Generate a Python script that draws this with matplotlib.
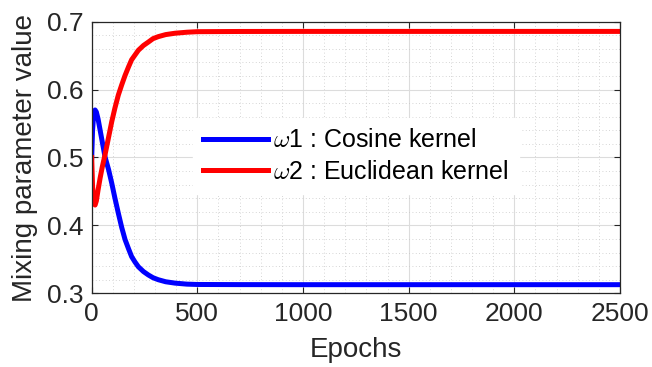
import matplotlib
matplotlib.use("Agg")
import matplotlib.pyplot as plt
from matplotlib.ticker import MultipleLocator

# values
epochs = [0, 4, 10, 16, 22, 30, 40, 50, 63, 80, 95, 110, 126, 142, 158, 175, 189,
          205, 221, 245, 268, 290, 315, 350, 394, 450, 500, 700, 1000, 1500, 2000, 2500]
w1_cosine = [0.500, 0.540, 0.566, 0.570, 0.567, 0.557, 0.540, 0.523, 0.501, 0.482,
             0.462, 0.440, 0.418, 0.397, 0.379, 0.365, 0.354, 0.346, 0.339, 0.332,
             0.327, 0.323, 0.320, 0.317, 0.315, 0.3135, 0.313, 0.3128, 0.3127,
             0.3127, 0.3127, 0.3127]
w2_euclid = [0.500, 0.458, 0.432, 0.430, 0.436, 0.452, 0.470, 0.486, 0.504, 0.530,
             0.553, 0.573, 0.592, 0.607, 0.621, 0.634, 0.644, 0.651, 0.658, 0.665,
             0.670, 0.675, 0.678, 0.681, 0.683, 0.6845, 0.6853, 0.6856, 0.6857,
             0.6857, 0.6857, 0.6857]

plt.rcParams['font.family'] = ['Liberation Sans', 'DejaVu Sans']
plt.rcParams['mathtext.fontset'] = 'cm'

fig = plt.figure(figsize=(6.52, 3.67), dpi=100)
ax = fig.add_axes([91.7 / 652, 1 - 293.3 / 367, 528.3 / 652, 271.6 / 367])

ax.plot(epochs, w1_cosine, color='#0000ff', lw=3.6, label=r'$\omega$1 : Cosine kernel',
        solid_joinstyle='round')
ax.plot(epochs, w2_euclid, color='#ff0000', lw=3.6, label=r'$\omega$2 : Euclidean kernel',
        solid_joinstyle='round')

ax.set_xlim(0, 2500)
ax.set_ylim(0.3, 0.7)
ax.xaxis.set_major_locator(MultipleLocator(500))
ax.xaxis.set_minor_locator(MultipleLocator(100))
ax.yaxis.set_major_locator(MultipleLocator(0.1))
ax.yaxis.set_minor_locator(MultipleLocator(0.02))
ax.set_yticklabels([f'{v:.1f}' for v in ax.get_yticks()])

ax.grid(which='major', color='#dcdcdc', lw=0.8, ls='-')
ax.grid(which='minor', color='#c8c8c8', lw=0.6, ls=(0, (1, 3)))
ax.set_axisbelow(True)

ax.tick_params(which='major', direction='in', length=4, width=0.8, top=True, right=True,
               labelsize=19, colors='#262626', pad=6)
ax.tick_params(which='minor', length=0, top=True, right=True)
for s in ax.spines.values():
    s.set_color('#262626')
    s.set_linewidth(0.9)

ax.set_xlabel('Epochs', fontsize=20, color='#262626', labelpad=8)
ax.set_ylabel('Mixing parameter value', fontsize=20, color='#262626', labelpad=6)

leg = ax.legend(loc='center', bbox_to_anchor=(0.5, 0.505), fontsize=18,
                frameon=True, fancybox=False, handlelength=2.6, handletextpad=0.2,
                labelspacing=0.3, borderpad=0.4)
leg.get_frame().set_facecolor('white')
leg.get_frame().set_edgecolor('white')
leg.get_frame().set_alpha(1)

fig.savefig('out.png', dpi=100)
